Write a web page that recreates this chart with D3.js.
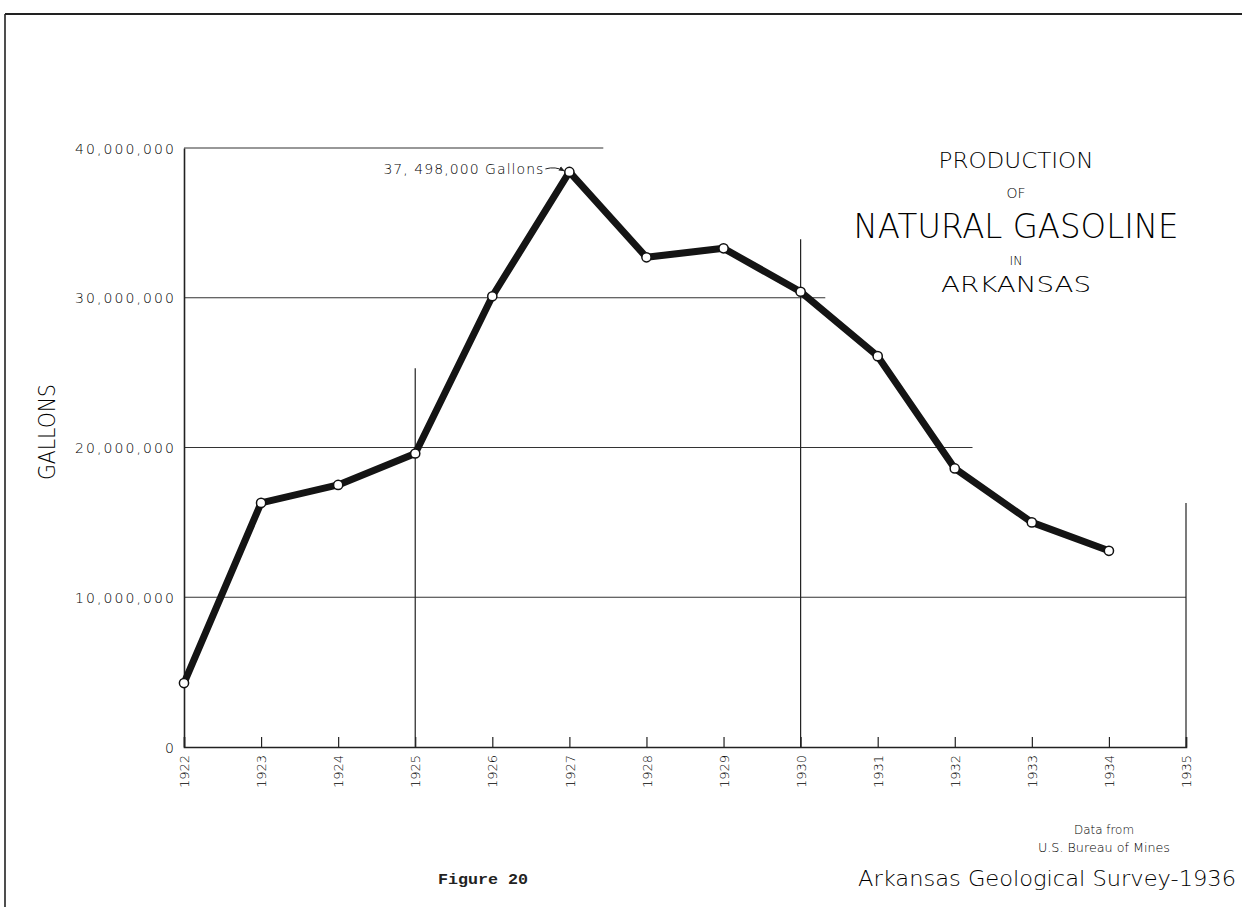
<!DOCTYPE html>
<html>
<head>
<meta charset="utf-8">
<script src="https://cdn.jsdelivr.net/npm/d3@7"></script>
<style>
  body { margin: 0; background: #fff; }
  svg { display: block; }
  .lbl { font-family: "DejaVu Sans", sans-serif; font-weight: 200; fill: #000; }
</style>
</head>
<body>
<svg id="chart"></svg>
<script>
// production of natural gasoline in arkansas, gallons per year
var years = [1922, 1923, 1924, 1925, 1926, 1927, 1928, 1929, 1930, 1931, 1932, 1933, 1934];
var gallons = [4270000, 16300000, 17500000, 19600000, 30100000, 38400000, 32700000, 33300000, 30400000, 26100000, 18600000, 15000000, 13100000];
var yTicks = [0, 10000000, 20000000, 30000000, 40000000];
var xTicks = [1922, 1923, 1924, 1925, 1926, 1927, 1928, 1929, 1930, 1931, 1932, 1933, 1934, 1935];
// the drawn grid is staircase-like: each line stops at a different place
var hGridValue = [40000000, 30000000, 20000000, 10000000];
var hGridEnd = [1927.44, 1930.32, 1932.23, 1935];
var vGridYear = [1925, 1930, 1935];
var vGridTop = [25300000, 33900000, 16300000];
var peakLabel = "37, 498,000 Gallons";

var W = 1242, H = 907;
var margin = {left: 184, top: 148};
var width = 1002, height = 599;

var svg = d3.select("#chart").attr("width", W).attr("height", H);

// page frame (top and left edges of the scanned sheet)
svg.append("line").attr("x1", 5).attr("y1", 14).attr("x2", W).attr("y2", 14)
  .attr("stroke", "#222").attr("stroke-width", 2.2);
svg.append("line").attr("x1", 5).attr("y1", 14).attr("x2", 5).attr("y2", H)
  .attr("stroke", "#222").attr("stroke-width", 1.6);

var x = d3.scaleLinear().domain([1922, 1935]).range([0, width]);
var y = d3.scaleLinear().domain([0, 40000000]).range([height, 0]);

var g = svg.append("g").attr("transform", "translate(" + margin.left + "," + margin.top + ")");

// grid
g.selectAll("line.hgrid").data(hGridValue).enter().append("line")
  .attr("class", "hgrid")
  .attr("x1", 0).attr("x2", function(d, i) { return x(hGridEnd[i]); })
  .attr("y1", function(d) { return y(d); }).attr("y2", function(d) { return y(d); })
  .attr("stroke", "#333").attr("stroke-width", 1.1);

g.selectAll("line.vgrid").data(vGridYear).enter().append("line")
  .attr("class", "vgrid")
  .attr("x1", function(d) { return x(d); }).attr("x2", function(d) { return x(d); })
  .attr("y1", y(0)).attr("y2", function(d, i) { return y(vGridTop[i]); })
  .attr("stroke", "#222").attr("stroke-width", 1.2);

// y axis
var yAxis = d3.axisLeft(y).tickValues(yTicks).tickSize(0).tickPadding(10)
  .tickFormat(function(d) { return d === 0 ? "0" : d3.format(",")(d); });
var yg = g.append("g").call(yAxis);
yg.select(".domain").attr("stroke", "#222").attr("stroke-width", 1.6);
yg.selectAll("text").attr("class", "lbl").style("font-size", "14px")
  .attr("textLength", function(d) { return d === 0 ? null : 99; })
  .attr("lengthAdjust", "spacing")
  .attr("dy", "0.36em");

// x axis, ticks point up into the plot
var xAxis = d3.axisBottom(x).tickValues(xTicks).tickSize(-10).tickPadding(8)
  .tickFormat(d3.format("d"));
var xg = g.append("g").attr("transform", "translate(0," + height + ")").call(xAxis);
xg.select(".domain").attr("stroke", "#222").attr("stroke-width", 1.6);
xg.selectAll(".tick line").attr("stroke", "#222").attr("stroke-width", 1.2);
xg.selectAll("text").attr("class", "lbl").style("font-size", "13px")
  .attr("transform", "rotate(-90)")
  .attr("text-anchor", "end")
  .attr("x", -8).attr("y", 0).attr("dy", "0.36em");

// the series line
var line = d3.line()
  .x(function(d, i) { return x(years[i]); })
  .y(function(d) { return y(d); });
g.append("path").datum(gallons)
  .attr("d", line)
  .attr("fill", "none").attr("stroke", "#141414").attr("stroke-width", 7)
  .attr("stroke-linejoin", "round");

g.selectAll("circle").data(gallons).enter().append("circle")
  .attr("cx", function(d, i) { return x(years[i]); })
  .attr("cy", function(d) { return y(d); })
  .attr("r", 4.6)
  .attr("fill", "#fff").attr("stroke", "#111").attr("stroke-width", 1.5);

// peak annotation
var iPeak = gallons.indexOf(d3.max(gallons));
var px = x(years[iPeak]), py = y(gallons[iPeak]);
g.append("text").attr("class", "lbl")
  .attr("x", px - 26).attr("y", py + 2)
  .attr("text-anchor", "end")
  .style("font-size", "14px")
  .attr("textLength", 160).attr("lengthAdjust", "spacing")
  .text(peakLabel);
svg.append("defs").append("marker").attr("id", "arr")
  .attr("viewBox", "0 0 10 10").attr("refX", 9).attr("refY", 5)
  .attr("markerWidth", 6).attr("markerHeight", 6).attr("orient", "auto")
  .append("path").attr("d", "M0,1 L10,5 L0,9 z").attr("fill", "#222");
g.append("path")
  .attr("d", "M" + (px - 24) + "," + (py - 3) + " Q" + (px - 14) + "," + (py - 6) + " " + (px - 5) + "," + (py - 1))
  .attr("fill", "none").attr("stroke", "#222").attr("stroke-width", 1)
  .attr("marker-end", "url(#arr)");

// axis title
svg.append("text").attr("class", "lbl")
  .attr("transform", "translate(55,432) rotate(-90)")
  .attr("text-anchor", "middle")
  .style("font-size", "23px")
  .attr("textLength", 96).attr("lengthAdjust", "spacingAndGlyphs")
  .text("GALLONS");

// title block
var title = [
  {t: "PRODUCTION", y: 168, s: 22, w: 155},
  {t: "OF", y: 198, s: 14, w: 19},
  {t: "NATURAL GASOLINE", y: 238, s: 33, w: 325},
  {t: "IN", y: 265, s: 13, w: 13},
  {t: "ARKANSAS", y: 292, s: 22, w: 150}
];
svg.selectAll("text.title").data(title).enter().append("text")
  .attr("class", "lbl title")
  .attr("x", 1016).attr("y", function(d) { return d.y; })
  .attr("text-anchor", "middle")
  .style("font-size", function(d) { return d.s + "px"; })
  .attr("textLength", function(d) { return d.w; })
  .attr("lengthAdjust", "spacingAndGlyphs")
  .text(function(d) { return d.t; });

// source notes
svg.append("text").attr("class", "lbl").attr("x", 1104).attr("y", 834)
  .attr("text-anchor", "middle").style("font-size", "13px")
  .attr("textLength", 60).attr("lengthAdjust", "spacingAndGlyphs")
  .text("Data from");
svg.append("text").attr("class", "lbl").attr("x", 1104).attr("y", 852)
  .attr("text-anchor", "middle").style("font-size", "13px")
  .attr("textLength", 132).attr("lengthAdjust", "spacingAndGlyphs")
  .text("U.S. Bureau of Mines");
svg.append("text").attr("class", "lbl").attr("x", 1047).attr("y", 886)
  .attr("text-anchor", "middle").style("font-size", "22px")
  .attr("textLength", 378).attr("lengthAdjust", "spacingAndGlyphs")
  .text("Arkansas Geological Survey-1936");
svg.append("text").attr("x", 483).attr("y", 884)
  .attr("text-anchor", "middle")
  .style("font-family", "'Liberation Mono', 'DejaVu Sans Mono', monospace")
  .style("font-size", "15px").style("font-weight", "bold").attr("fill", "#222")
  .attr("textLength", 90).attr("lengthAdjust", "spacingAndGlyphs")
  .text("Figure 20");
</script>
</body>
</html>
